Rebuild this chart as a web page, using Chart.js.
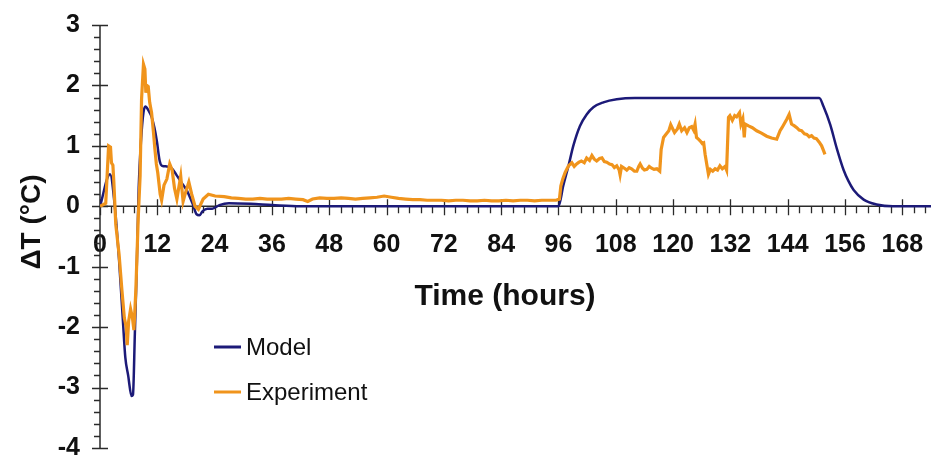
<!DOCTYPE html>
<html>
<head>
<meta charset="utf-8">
<script src="https://cdn.jsdelivr.net/npm/chart.js@4.4.1/dist/chart.umd.min.js"></script>
<style>
  html, body { margin: 0; padding: 0; background: #ffffff; }
  #wrap { width: 933px; height: 457px; }
</style>
</head>
<body>
<div id="wrap"><canvas id="c" width="933" height="457"></canvas></div>
<script>
// ---------- data ----------
const seriesNames = ["Model", "Experiment"];
const xTitle = "Time (hours)";
const yTitle = "\u0394T (\u00B0C)";

const modelHours = [0, 2.1, 3.1, 4.0, 4.8, 5.3, 5.9, 6.6, 6.9, 7.3, 7.7, 8.1, 8.6, 9.1, 9.5, 10.2, 10.8, 11.4, 11.9, 12.5, 13.0, 14.0, 15.0, 16.0, 17.0, 18.2, 19.5, 20.2, 20.8, 21.5, 22.5, 23.5, 25.0, 27.0, 31.5, 36, 42, 96, 97.0, 98.1, 99.1, 100.5, 101.9, 103.3, 105.4, 108.2, 112, 150.6, 151.5, 152.9, 154.3, 155.7, 156.7, 157.8, 159.9, 162.6, 166, 174];
const modelValues = [0, 0.53, 0.0, -0.9, -1.9, -2.5, -2.8, -3.14, -3.12, -2.1, -1.0, 0.3, 1.1, 1.55, 1.65, 1.58, 1.48, 1.3, 1.08, 0.75, 0.67, 0.66, 0.63, 0.52, 0.4, 0.26, 0.02, -0.13, -0.15, -0.08, -0.04, -0.04, 0.02, 0.05, 0.04, 0.02, 0.0, 0.0, 0.34, 0.67, 1.0, 1.33, 1.52, 1.64, 1.72, 1.77, 1.79, 1.79, 1.65, 1.35, 0.95, 0.6, 0.42, 0.27, 0.11, 0.03, 0, 0];

const expHours = [0, 1.2, 1.8, 2.2, 2.4, 2.7, 2.9, 3.3, 4.0, 4.6, 5.1, 5.5, 5.7, 6.0, 6.4, 6.8, 7.1, 7.5, 8.0, 8.4, 8.7, 9.1, 9.4, 9.6, 9.8, 10.1, 10.4, 10.8, 11.2, 11.5, 11.8, 12.1, 12.6, 12.9, 13.4, 14.0, 14.6, 15.1, 15.6, 16.1, 16.9, 17.4, 18.0, 18.6, 19.2, 19.9, 20.6, 21.6, 22.7, 24.1,
  26, 27.5, 29, 30.5, 32, 33.5, 35, 36.5, 38, 39.5, 41, 42.5, 43.5, 44.5, 46, 47.5, 49, 50.5, 52, 53.5, 55, 56.5, 58, 59.5, 61, 62.5, 64, 65.5, 67, 68.5, 70, 71.5, 73, 74.5, 76, 77.5, 79, 80.5, 82, 83.5, 85, 86.5, 88, 89.5, 91, 92.5, 94, 95.5,
  96.2, 96.5, 96.9, 97.4, 98.1, 98.8, 99.3, 99.8, 100.3, 100.8, 101.4, 101.9, 102.5, 103.0, 103.5, 104.0, 104.6, 105.1, 105.6, 106.1, 106.7, 107.2, 107.7, 108.2, 108.7, 108.9, 109.2, 109.8, 110.3, 110.8, 111.3, 111.9, 112.4, 112.8, 113.1, 113.6, 114.0, 114.5, 115.0, 115.5, 116.0, 116.6, 117.2, 117.5, 118.0, 118.6, 119.1, 119.5, 119.8, 120.3, 120.9, 121.3, 121.8, 122.4, 122.9, 123.4, 123.9, 124.3, 124.6, 124.9, 125.3, 125.7, 126.1, 126.4, 126.7, 127.1, 127.4, 127.8, 128.3, 128.8, 129.3, 129.8, 130.3, 130.9, 131.2, 131.6, 131.9, 132.4, 132.9, 133.3, 133.9, 134.2, 134.6, 134.9, 135.1, 135.8, 136.6, 137.5, 138.5, 139.6, 140.6, 141.7, 142.4, 142.8, 143.8, 144.3, 144.8, 145.4, 145.9, 146.4, 146.9, 147.5, 148.0, 148.5, 149.0, 149.5, 150.0, 150.6, 151.1, 151.5, 151.8];
const expValues = [0.0, 0.05, 1.0, 0.98, 0.72, 0.68, 0.4, -0.3, -0.8, -1.4, -1.85, -2.0, -2.3, -1.9, -1.7, -1.85, -2.05, -1.4, -0.2, 0.5, 1.77, 2.35, 2.27, 1.88, 2.0, 1.98, 1.72, 1.55, 1.22, 0.94, 0.7, 0.55, 0.2, 0.1, 0.35, 0.45, 0.7, 0.6, 0.3, 0.12, 0.5, 0.08, 0.25, 0.4, 0.2, 0.0, -0.05, 0.12, 0.2, 0.17,
  0.16, 0.14, 0.13, 0.12, 0.12, 0.13, 0.12, 0.12, 0.12, 0.13, 0.12, 0.11, 0.08, 0.12, 0.14, 0.13, 0.13, 0.14, 0.13, 0.12, 0.13, 0.14, 0.15, 0.17, 0.15, 0.13, 0.12, 0.11, 0.11, 0.10, 0.10, 0.10, 0.09, 0.10, 0.10, 0.09, 0.09, 0.10, 0.09, 0.09, 0.10, 0.09, 0.10, 0.10, 0.09, 0.10, 0.10, 0.10,
  0.12, 0.34, 0.45, 0.56, 0.67, 0.72, 0.66, 0.7, 0.73, 0.75, 0.72, 0.8, 0.76, 0.84, 0.78, 0.75, 0.79, 0.8, 0.74, 0.73, 0.7, 0.69, 0.64, 0.67, 0.6, 0.52, 0.66, 0.63, 0.6, 0.64, 0.62, 0.58, 0.58, 0.66, 0.7, 0.63, 0.6, 0.61, 0.66, 0.63, 0.61, 0.62, 0.58, 0.94, 1.14, 1.2, 1.25, 1.35, 1.3, 1.22, 1.28, 1.36, 1.25, 1.3, 1.22, 1.3, 1.32, 1.26, 1.36, 1.14, 1.11, 1.08, 1.04, 1.05, 0.86, 0.67, 0.53, 0.61, 0.58, 0.62, 0.6, 0.67, 0.62, 0.66, 0.6, 1.47, 1.5, 1.42, 1.5, 1.48, 1.55, 1.36, 1.45, 1.14, 1.36, 1.33, 1.3, 1.25, 1.21, 1.16, 1.13, 1.11, 1.25, 1.3, 1.44, 1.52, 1.36, 1.33, 1.3, 1.26, 1.25, 1.2, 1.19, 1.15, 1.17, 1.13, 1.12, 1.06, 1.0, 0.92, 0.86];

const xMin = 0, xMax = 174, xStep = 12, xMinorStep = 2.4;
const yMin = -4, yMax = 3, yStep = 1, yMinorStep = 0.2;

// ---------- styles ----------
const FONT = '"Liberation Sans", Arial, Helvetica, sans-serif';
const colors = { Model: "#1c1a78", Experiment: "#f0941c" };
const axisColor = "#2a2a2a";
const textColor = "#111111";
const CLEAR = "rgba(0,0,0,0)";

const toPts = (xs, ys) => xs.map((x, i) => ({ x: x, y: ys[i] }));

const axesPlugin = {
  id: "crossAxes",
  beforeDatasetsDraw(chart) {
    const ctx = chart.ctx;
    const xs = chart.scales.x, ys = chart.scales.y;
    const y0 = ys.getPixelForValue(0);
    const x0 = xs.getPixelForValue(xMin);
    const area = chart.chartArea;
    ctx.save();
    ctx.strokeStyle = axisColor;
    ctx.lineWidth = 1.5;
    ctx.beginPath();
    ctx.moveTo(x0, area.top); ctx.lineTo(x0, area.bottom);
    ctx.moveTo(area.left, y0); ctx.lineTo(area.right, y0);
    ctx.stroke();
    ctx.lineWidth = 1.3;
    ctx.beginPath();
    const nx = Math.round((xMax - xMin) / xMinorStep);
    for (let i = 0; i <= nx; i++) {
      const v = xMin + i * xMinorStep;
      const p = Math.round(xs.getPixelForValue(v)) + 0.5;
      const major = Math.abs(v / xStep - Math.round(v / xStep)) < 1e-6;
      if (major) { ctx.moveTo(p, y0 - 7); ctx.lineTo(p, y0 + 9); }
      else { ctx.moveTo(p, y0); ctx.lineTo(p, y0 + 7); }
    }
    const ny = Math.round((yMax - yMin) / yMinorStep);
    for (let i = 0; i <= ny; i++) {
      const v = yMin + i * yMinorStep;
      const p = Math.round(ys.getPixelForValue(v)) + 0.5;
      const major = Math.abs(v / yStep - Math.round(v / yStep)) < 1e-6;
      if (major) { ctx.moveTo(x0 - 8, p); ctx.lineTo(x0 + 8, p); }
      else { ctx.moveTo(x0 - 6, p); ctx.lineTo(x0, p); }
    }
    ctx.stroke();
    ctx.restore();
  },
  afterDraw(chart) {
    const ctx = chart.ctx;
    ctx.save();
    ctx.fillStyle = textColor;
    ctx.textAlign = "center";
    ctx.textBaseline = "middle";
    ctx.font = "bold 30px " + FONT;
    ctx.fillText(xTitle, 505, 297);
    ctx.font = "bold 28px " + FONT;
    ctx.translate(32, 222);
    ctx.rotate(-Math.PI / 2);
    ctx.fillText(yTitle, 0, 0);
    ctx.restore();
    ctx.save();
    ctx.font = "24px " + FONT;
    ctx.textAlign = "left";
    ctx.textBaseline = "middle";
    const rows = [347, 392];
    seriesNames.forEach((name, i) => {
      const ds = chart.data.datasets.find(d => d.label === name);
      const y = rows[i];
      ctx.strokeStyle = ds.borderColor;
      ctx.lineWidth = 3;
      ctx.beginPath();
      ctx.moveTo(214, y); ctx.lineTo(241, y);
      ctx.stroke();
      ctx.fillStyle = textColor;
      ctx.fillText(ds.label, 246, y + 1);
    });
    ctx.restore();
  }
};

new Chart(document.getElementById("c"), {
  type: "line",
  data: {
    datasets: [
      {
        label: seriesNames[0],
        data: toPts(modelHours, modelValues),
        borderColor: colors.Model,
        borderWidth: 2.5,
        pointRadius: 0,
        cubicInterpolationMode: "monotone",
        fill: false,
        order: 1
      },
      {
        label: seriesNames[1],
        data: toPts(expHours, expValues),
        borderColor: colors.Experiment,
        borderWidth: 3.2,
        pointRadius: 0,
        tension: 0,
        fill: false,
        order: 0
      }
    ]
  },
  options: {
    responsive: false,
    devicePixelRatio: 1,
    animation: false,
    layout: { autoPadding: false, padding: { left: 0, right: 2, top: 25, bottom: 9 } },
    plugins: { legend: { display: false }, tooltip: { enabled: false } },
    scales: {
      x: {
        type: "linear",
        position: { y: 0 },
        min: xMin, max: xMax,
        grid: { display: true, drawOnChartArea: false, drawTicks: true, tickLength: 24, tickColor: CLEAR, color: CLEAR },
        border: { display: false },
        ticks: {
          stepSize: xStep,
          includeBounds: false,
          autoSkip: false,
          maxRotation: 0,
          padding: 0,
          color: textColor,
          font: { family: FONT, size: 25, weight: "bold" }
        }
      },
      y: {
        type: "linear",
        position: "left",
        min: yMin, max: yMax,
        grid: { display: true, drawOnChartArea: false, drawTicks: true, tickLength: 20, tickColor: CLEAR, color: CLEAR },
        border: { display: false },
        afterFit(scale) { scale.width = 100; },
        ticks: {
          stepSize: yStep,
          padding: 0,
          color: textColor,
          font: { family: FONT, size: 25, weight: "bold", lineHeight: 0.5 }
        }
      }
    }
  },
  plugins: [axesPlugin]
});
</script>
</body>
</html>
